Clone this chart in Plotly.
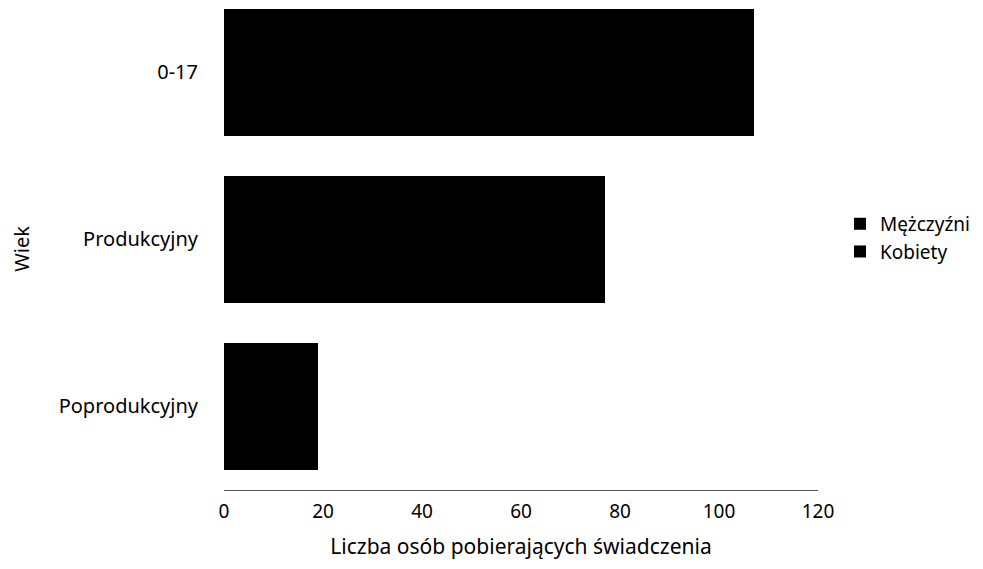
import plotly.graph_objects as go

# ── Data ───────────────────────────────────────────────────────────────────────
# bottom-to-top order on the category axis
age_groups = ["Poprodukcyjny", "Produkcyjny", "0-17"]
men   = [8, 41, 55]     # Mężczyźni (split estimated; scan prints both series black)
women = [11, 36, 52]    # Kobiety
x_ticks = [0, 20, 40, 60, 80, 100, 120]

FONT = "Noto Sans, Open Sans, sans-serif"
INK = "#000000"

fig = go.Figure()
fig.add_trace(go.Bar(
    y=age_groups, x=men, orientation="h", name="Mężczyźni",
    marker=dict(color=INK, line=dict(width=0)),
))
fig.add_trace(go.Bar(
    y=age_groups, x=women, orientation="h", name="Kobiety",
    marker=dict(color=INK, line=dict(width=0)),
))

fig.update_layout(
    barmode="stack",
    bargap=0.245,
    width=983, height=569,
    paper_bgcolor="white", plot_bgcolor="white",
    font=dict(family=FONT, color=INK, size=19),
    margin=dict(l=216, r=173, t=0, b=87),
    legend=dict(
        x=1.037, y=0.523, xanchor="left", yanchor="middle",
        traceorder="normal",
        font=dict(size=19), itemwidth=30, tracegroupgap=0,
        bgcolor="rgba(0,0,0,0)",
    ),
    xaxis=dict(
        range=[0, 120], tickvals=x_ticks, showgrid=False, zeroline=False,
        showline=True, linecolor="#555", linewidth=1,
        ticks="", ticklabelstandoff=4, tickfont=dict(size=19),
        title=dict(text="Liczba osób pobierających świadczenia",
                   font=dict(size=21), standoff=16),
    ),
    yaxis=dict(
        categoryorder="array", categoryarray=age_groups,
        range=[-0.5, 2.386], showgrid=False, zeroline=False, showline=False,
        ticks="", ticklabelstandoff=25, tickfont=dict(size=20),
        title=dict(text="Wiek", font=dict(size=20), standoff=24),
    ),
)

fig.write_html("out.html")
